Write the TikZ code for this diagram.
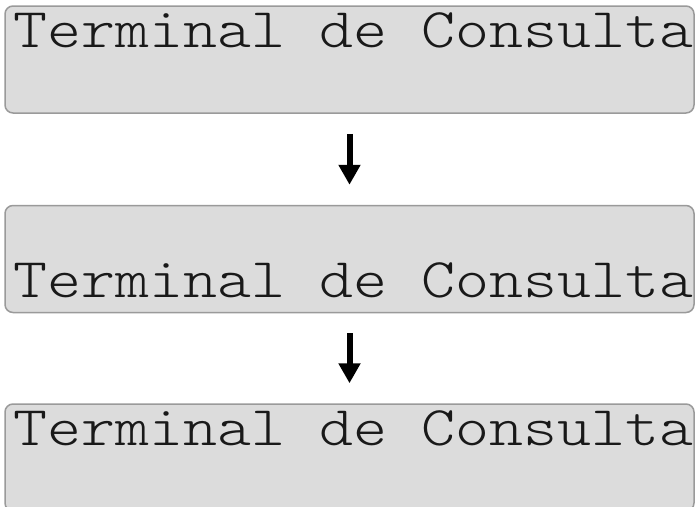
\documentclass[tikz,border=0pt]{standalone}
\usepackage{fontspec}
\newfontfamily\courlike[FakeStretch=1.155]{Latin Modern Mono Light}
\usetikzlibrary{arrows.meta}
\definecolor{boxfill}{HTML}{DCDCDC}
\definecolor{boxline}{HTML}{9A9A9A}
\tikzset{
  termbox/.style={draw=boxline, line width=1.5pt, fill=boxfill, rounded corners=8pt,
    minimum width=689pt, minimum height=107pt, inner sep=0pt},
  termtext/.style={anchor=base, inner sep=0pt, font=\courlike\fontsize{56}{60}\selectfont, text=black!90},
  flow/.style={line width=6pt, -{Triangle[width=21pt,length=20pt]}, shorten <=20pt, shorten >=20pt}
}
\begin{document}
\begin{tikzpicture}[x=1pt,y=1pt]
\useasboundingbox (0,0) rectangle (695,-506);
\clip (0,0) rectangle (695,-506);
\node[termbox] (b1) at (349.5,-59.5) {};
\node[termbox] (b2) at (349.5,-259) {};
\node[termbox] (b3) at (349.5,-457.5) {};
\node[termtext] (t1) at (353.5,-47) {Terminal de Consulta};
\node[termtext] (t2) at (353.5,-297) {Terminal de Consulta};
\node[termtext] (t3) at (353.5,-445) {Terminal de Consulta};
\draw[flow] (b1.south) -- (b2.north);
\draw[flow] (b2.south) -- (b3.north);
\end{tikzpicture}
\end{document}
